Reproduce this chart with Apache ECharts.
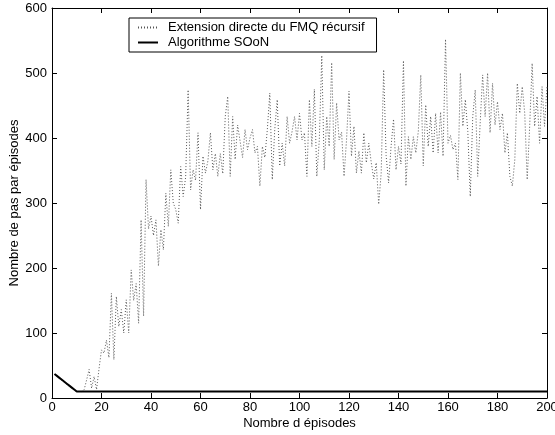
<!DOCTYPE html>
<html><head><meta charset="utf-8">
<script src="https://cdn.jsdelivr.net/npm/echarts@6/dist/echarts.min.js"></script>
<style>html,body{margin:0;padding:0;background:#fff}#c{width:555px;height:435px}</style>
</head><body><div id="c"></div>
<script>
const seriesNames = ["Extension directe du FMQ récursif", "Algorithme SOoN"];
const xTicks = [0,20,40,60,80,100,120,140,160,180,200];
const yTicks = [0,100,200,300,400,500,600];
// episodes 1..200
const fmqValues = [
37,33,30,27,24,21,18,15,12,10,
10,10,13,28,44,15,33,13,45,74,
69,89,62,161,59,156,110,136,100,151,
100,197,150,176,115,274,126,336,260,280,
250,274,203,259,228,315,264,351,300,290,
269,356,310,340,474,320,351,335,408,290,
372,346,365,408,351,376,341,376,345,433,
464,341,433,367,420,395,370,413,382,400,
413,377,387,326,387,370,413,469,336,413,
459,357,392,357,433,392,410,433,397,438,
397,408,341,459,387,475,341,397,527,351,
433,387,516,367,454,397,409,341,397,472,
372,418,346,380,346,408,362,392,362,337,
362,298,346,505,373,331,387,429,351,387,
360,519,326,402,367,402,377,410,497,357,
451,387,433,377,438,377,440,372,552,392,
404,382,392,336,500,418,459,410,310,433,
474,341,423,497,433,500,408,484,420,456,
413,438,377,408,341,326,367,484,438,479,
438,336,418,515,418,464,392,479,418,480
];
const soonValues = [
37,34,31,28,25,22,19,16,13,10,
10,10,10,10,10,10,10,10,10,10,
10,10,10,10,10,10,10,10,10,10,
10,10,10,10,10,10,10,10,10,10,
10,10,10,10,10,10,10,10,10,10,
10,10,10,10,10,10,10,10,10,10,
10,10,10,10,10,10,10,10,10,10,
10,10,10,10,10,10,10,10,10,10,
10,10,10,10,10,10,10,10,10,10,
10,10,10,10,10,10,10,10,10,10,
10,10,10,10,10,10,10,10,10,10,
10,10,10,10,10,10,10,10,10,10,
10,10,10,10,10,10,10,10,10,10,
10,10,10,10,10,10,10,10,10,10,
10,10,10,10,10,10,10,10,10,10,
10,10,10,10,10,10,10,10,10,10,
10,10,10,10,10,10,10,10,10,10,
10,10,10,10,10,10,10,10,10,10,
10,10,10,10,10,10,10,10,10,10,
10,10,10,10,10,10,10,10,10,10
];
const episodes = fmqValues.map((_, i) => i + 1);

const font = 'Liberation Sans, Arial, sans-serif';
const chart = echarts.init(document.getElementById('c'), null, {renderer: 'canvas'});
const axisLine = {show: true, onZero: false, lineStyle: {color: '#000', width: 1}};
const axisTick = {show: true, inside: true, length: 5, lineStyle: {color: '#000'}};
chart.setOption({
  animation: false,
  backgroundColor: '#fff',
  grid: {left: 52, right: 8, top: 8, bottom: 37, containLabel: false, outerBoundsMode: 'none'},
  legend: {
    show: true,
    orient: 'vertical', left: 129, top: 18,
    itemWidth: 20, itemHeight: 13, itemGap: 2,
    padding: [3, 12, 3, 8],
    borderColor: '#000', borderWidth: 1, backgroundColor: '#fff',
    itemStyle: {color: 'transparent', borderWidth: 0, opacity: 0},
    textStyle: {color: '#000', fontSize: 13, fontFamily: font, padding: [0, 0, 0, 5]},
    data: seriesNames
  },
  xAxis: [
    {type: 'value', min: 0, max: 200, interval: 20, position: 'bottom',
     name: 'Nombre d épisodes', nameLocation: 'middle', nameGap: 19, nameMoveOverlap: false,
     nameTextStyle: {color: '#000', fontSize: 13, fontFamily: font},
     axisLine, axisTick, splitLine: {show: false},
     axisLabel: {color: '#000', fontSize: 13, fontFamily: font, margin: 3}},
    {type: 'value', min: 0, max: 200, interval: 20, position: 'top',
     axisLine, axisTick, splitLine: {show: false}, axisLabel: {show: false}}
  ],
  yAxis: [
    {type: 'value', min: 0, max: 600, interval: 100, position: 'left',
     name: 'Nombre de pas par épisodes', nameLocation: 'middle', nameGap: 31, nameRotate: 90,
     nameMoveOverlap: false,
     nameTextStyle: {color: '#000', fontSize: 13, fontFamily: font},
     axisLine, axisTick, splitLine: {show: false},
     axisLabel: {color: '#000', fontSize: 13, fontFamily: font, margin: 5}},
    {type: 'value', min: 0, max: 600, interval: 100, position: 'right',
     axisLine, axisTick, splitLine: {show: false}, axisLabel: {show: false}}
  ],
  series: [
    {name: seriesNames[0], type: 'line', symbol: 'none',
     data: episodes.map((e, i) => [e, fmqValues[i]]),
     lineStyle: {color: '#555', width: 1, type: [1, 2]}, z: 2},
    {name: seriesNames[1], type: 'line', symbol: 'none',
     data: episodes.map((e, i) => [e, soonValues[i]]),
     lineStyle: {color: '#000', width: 2}, z: 3}
  ]
});
</script></body></html>
